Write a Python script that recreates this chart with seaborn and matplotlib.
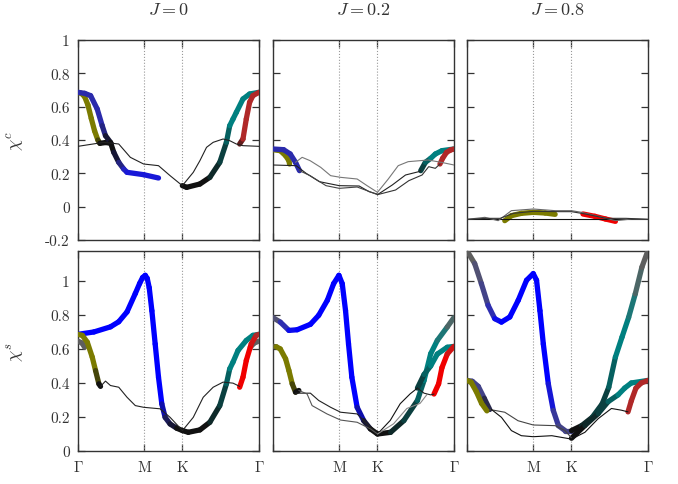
import numpy as np
import matplotlib
matplotlib.use('Agg')
import matplotlib.pyplot as plt
import matplotlib.transforms as mtransforms
from matplotlib.collections import LineCollection
from matplotlib.colors import to_rgb
import seaborn as sns

# high-symmetry path: Gamma - M - K - Gamma (hexagonal BZ)
path_pos = [0.0, 1.0, 1.577, 2.732]
path_lab = [r'$\Gamma$', r'$\mathrm{M}$', r'$\mathrm{K}$', r'$\Gamma$']
titles = [r'$J = 0$', r'$J = 0.2$', r'$J = 0.8$']

pal = {'ol': '#7b7b00', 'b1': '#2b2bab', 'b': '#1818d8', 'bb': '#0000ff',
       'nv': '#1c1c58', 'k': '#111111', 'dt': '#0b4040', 'tl': '#008080',
       'br': '#b02828', 'r': '#f00000', 'gr': '#5e5e5e', 'sl': '#434388',
       'tg': '#3a6e6e'}

# ---- chi^c, J = 0 ----
c0_olive = [(0, 0.685, 'ol'), (0.05, 0.68, 'ol'), (0.1, 0.66, 'ol'), (0.15, 0.61, 'ol'),
            (0.2, 0.53, 'ol'), (0.25, 0.455, 'ol'), (0.3, 0.4, 'ol'), (0.33, 0.38, 'k'),
            (0.42, 0.385, 'k'), (0.5, 0.38, 'k')]
c0_blue = [(0, 0.686, 'b1'), (0.1, 0.68, 'b1'), (0.19, 0.666, 'b1'), (0.29, 0.586, 'b1'),
           (0.365, 0.486, 'b1'), (0.415, 0.426, 'nv'), (0.49, 0.386, 'k'), (0.54, 0.326, 'k'),
           (0.615, 0.266, 'nv'), (0.69, 0.226, 'b1'), (0.74, 0.206, 'b'), (0.99, 0.192, 'b'),
           (1.215, 0.172, 'b')]
c0_teal = [(1.575, 0.126, 'k'), (1.64, 0.116, 'k'), (1.84, 0.136, 'k'), (1.99, 0.176, 'k'),
           (2.14, 0.266, 'dt'), (2.24, 0.386, 'dt'), (2.29, 0.486, 'tl'), (2.34, 0.526, 'tl'),
           (2.39, 0.566, 'tl'), (2.49, 0.646, 'tl'), (2.59, 0.676, 'tl'), (2.73, 0.686, 'tl')]
c0_red = [(2.44, 0.376, 'k'), (2.49, 0.406, 'br'), (2.54, 0.526, 'br'), (2.59, 0.626, 'br'),
          (2.64, 0.666, 'br'), (2.73, 0.686, 'br')]
c0_thin1_x = [0, 0.39, 0.615, 0.79, 0.99, 1.215, 1.39, 1.575]
c0_thin1_y = [0.362, 0.386, 0.376, 0.296, 0.256, 0.246, 0.186, 0.126]
c0_thin2_x = [1.575, 1.74, 1.84, 1.94, 2.04, 2.19, 2.29, 2.39, 2.49, 2.732]
c0_thin2_y = [0.126, 0.206, 0.276, 0.356, 0.386, 0.406, 0.396, 0.376, 0.366, 0.362]

# ---- chi^c, J = 0.2 ----
c1_olive = [(0, 0.342, 'ol'), (0.11, 0.336, 'ol'), (0.19, 0.306, 'ol'), (0.24, 0.276, 'ol'),
            (0.25, 0.256, 'ol')]
c1_blue = [(0, 0.346, 'b1'), (0.16, 0.342, 'b1'), (0.26, 0.316, 'b1'), (0.34, 0.266, 'b1'),
           (0.40, 0.216, 'b1')]
c1_teal = [(2.23, 0.216, 'dt'), (2.30, 0.266, 'dt'), (2.38, 0.29, 'tl'), (2.45, 0.316, 'tl'),
           (2.55, 0.336, 'tl'), (2.73, 0.346, 'tl')]
c1_red = [(2.52, 0.256, 'br'), (2.56, 0.29, 'br'), (2.62, 0.326, 'br'), (2.68, 0.34, 'br'),
          (2.73, 0.346, 'br')]
c1_thin_a_x = [0.34, 0.44, 0.56, 0.72, 0.87, 1.02, 1.27, 1.42, 1.577]
c1_thin_a_y = [0.266, 0.296, 0.276, 0.236, 0.186, 0.176, 0.166, 0.126, 0.086]
c1_thin_b_x = [0, 0.35, 0.5, 0.7, 1.0, 1.3, 1.45, 1.577]
c1_thin_b_y = [0.25, 0.246, 0.2, 0.15, 0.126, 0.124, 0.09, 0.075]
c1_thin_c_x = [0.4, 0.56, 0.8, 1.0, 1.27, 1.42, 1.577]
c1_thin_c_y = [0.216, 0.186, 0.126, 0.11, 0.118, 0.096, 0.072]
c1_thin_d_x = [1.577, 1.74, 1.89, 2.04, 2.34, 2.54, 2.732]
c1_thin_d_y = [0.086, 0.166, 0.246, 0.27, 0.28, 0.266, 0.25]
c1_thin_e_x = [1.577, 1.80, 2.0, 2.2, 2.23]
c1_thin_e_y = [0.072, 0.13, 0.19, 0.21, 0.216]
c1_thin_f_x = [1.577, 1.85, 2.05, 2.25, 2.35, 2.45, 2.52]
c1_thin_f_y = [0.072, 0.10, 0.156, 0.19, 0.24, 0.23, 0.256]

# ---- chi^c, J = 0.8 ----
c2_olive = [(0.57, -0.084, 'ol'), (0.67, -0.054, 'ol'), (0.82, -0.04, 'ol'), (1.0, -0.034, 'ol'),
            (1.18, -0.038, 'ol'), (1.33, -0.046, 'ol')]
c2_red = [(1.75, -0.044, 'r'), (1.93, -0.058, 'r'), (2.09, -0.074, 'r'), (2.24, -0.088, 'r')]
c2_flat_x = [0, 0.5, 1.0, 1.577, 2.0, 2.732]
c2_flat_y = [-0.076, -0.076, -0.076, -0.076, -0.076, -0.076]
c2_thin1_x = [0, 0.27, 0.47, 0.57, 0.67, 1.0, 1.33, 1.577, 1.73, 2.04, 2.24, 2.49, 2.732]
c2_thin1_y = [-0.076, -0.064, -0.084, -0.054, -0.024, -0.014, -0.024, -0.024, -0.034,
              -0.064, -0.084, -0.074, -0.076]
c2_thin2_x = [0, 0.3, 0.5, 0.7, 1.0, 1.4, 1.577, 1.8, 2.1, 2.4, 2.732]
c2_thin2_y = [-0.076, -0.07, -0.07, -0.04, -0.028, -0.03, -0.03, -0.045, -0.07, -0.07, -0.076]

# ---- chi^s, J = 0 ----
s0_blue = [(0, 0.686, 'bb'), (0.24, 0.70, 'bb'), (0.49, 0.73, 'bb'), (0.615, 0.76, 'bb'),
           (0.74, 0.818, 'bb'), (0.865, 0.926, 'bb'), (0.93, 0.985, 'bb'), (0.975, 1.02, 'bb'),
           (1.015, 1.033, 'bb'), (1.045, 1.015, 'bb'), (1.075, 0.96, 'bb'), (1.115, 0.825, 'bb'),
           (1.165, 0.629, 'bb'), (1.215, 0.434, 'bb'), (1.265, 0.277, 'bb'), (1.315, 0.198, 'nv'),
           (1.39, 0.159, 'nv'), (1.49, 0.134, 'k'), (1.577, 0.12, 'k')]
s0_gray_l = [(0, 0.646, 'gr'), (0.06, 0.635, 'gr'), (0.1, 0.61, 'gr')]
s0_olive = [(0, 0.686, 'ol'), (0.065, 0.68, 'ol'), (0.14, 0.64, 'ol'), (0.215, 0.552, 'ol'),
            (0.265, 0.473, 'ol'), (0.315, 0.395, 'k'), (0.34, 0.38, 'k')]
s0_teal = [(1.577, 0.12, 'k'), (1.665, 0.11, 'k'), (1.84, 0.124, 'k'), (1.99, 0.169, 'k'),
           (2.14, 0.267, 'dt'), (2.24, 0.395, 'dt'), (2.29, 0.483, 'tl'), (2.34, 0.523, 'tl'),
           (2.415, 0.591, 'tl'), (2.54, 0.65, 'tl'), (2.64, 0.68, 'tl'), (2.73, 0.686, 'tl')]
s0_gray_r = [(2.6, 0.61, 'gr'), (2.66, 0.635, 'gr'), (2.73, 0.646, 'gr')]
s0_red = [(2.44, 0.375, 'r'), (2.49, 0.434, 'r'), (2.54, 0.532, 'r'), (2.615, 0.63, 'r'),
          (2.69, 0.68, 'br'), (2.73, 0.686, 'br')]
s0_thin1_x = [0.34, 0.415, 0.49, 0.615, 0.74, 0.865, 0.99, 1.24, 1.39, 1.577]
s0_thin1_y = [0.38, 0.411, 0.385, 0.375, 0.316, 0.267, 0.257, 0.248, 0.198, 0.12]
s0_thin2_x = [1.577, 1.74, 1.89, 2.04, 2.19, 2.34, 2.44]
s0_thin2_y = [0.12, 0.198, 0.316, 0.375, 0.405, 0.399, 0.38]

# ---- chi^s, J = 0.2 ----
s1_upper = [(0, 0.784, 'gr'), (0.11, 0.758, 'sl'), (0.24, 0.709, 'b'), (0.365, 0.713, 'bb'),
            (0.565, 0.745, 'bb'), (0.69, 0.798, 'bb'), (0.82, 0.886, 'bb'), (0.915, 0.984, 'bb'),
            (0.995, 1.033, 'bb'), (1.045, 0.984, 'bb'), (1.095, 0.825, 'bb'), (1.14, 0.629, 'bb'),
            (1.19, 0.434, 'bb'), (1.27, 0.257, 'bb'), (1.37, 0.178, 'nv'), (1.47, 0.13, 'k'),
            (1.577, 0.10, 'k')]
s1_right = [(1.577, 0.10, 'k'), (1.775, 0.11, 'k'), (1.975, 0.179, 'dt'), (2.18, 0.297, 'dt'),
            (2.28, 0.415, 'tl'), (2.38, 0.572, 'tl'), (2.48, 0.65, 'tl'), (2.63, 0.729, 'tg'),
            (2.73, 0.784, 'gr')]
s1_olive = [(0, 0.615, 'sl'), (0.05, 0.613, 'ol'), (0.11, 0.60, 'ol'), (0.19, 0.542, 'ol'),
            (0.24, 0.473, 'ol'), (0.29, 0.395, 'ol'), (0.34, 0.346, 'k'), (0.39, 0.356, 'k')]
s1_teal = [(2.18, 0.37, 'dt'), (2.28, 0.45, 'dt'), (2.38, 0.50, 'tl'), (2.48, 0.57, 'tl'),
           (2.63, 0.61, 'tl'), (2.73, 0.615, 'tl')]
s1_red = [(2.43, 0.335, 'r'), (2.50, 0.395, 'r'), (2.55, 0.49, 'r'), (2.63, 0.57, 'r'),
          (2.73, 0.615, 'br')]
s1_thin1_x = [0.34, 0.565, 0.69, 0.87, 1.02, 1.27, 1.47, 1.577]
s1_thin1_y = [0.34, 0.34, 0.297, 0.257, 0.228, 0.218, 0.139, 0.10]
s1_thin2_x = [0.39, 0.515, 0.59, 0.815, 1.02, 1.27, 1.47, 1.577]
s1_thin2_y = [0.356, 0.335, 0.267, 0.218, 0.182, 0.169, 0.13, 0.10]
s1_thin3_x = [1.577, 1.77, 1.92, 2.07, 2.18]
s1_thin3_y = [0.10, 0.18, 0.278, 0.336, 0.37]
s1_thin4_x = [1.577, 1.82, 2.02, 2.22, 2.32]
s1_thin4_y = [0.10, 0.16, 0.25, 0.28, 0.33]
s1_thin5_x = [2.18, 2.28, 2.38, 2.43]
s1_thin5_y = [0.37, 0.34, 0.33, 0.335]

# ---- chi^s, J = 0.8 ----
s2_upper = [(0, 1.177, 'gr'), (0.116, 1.102, 'gr'), (0.217, 0.984, 'sl'), (0.318, 0.857, 'sl'),
            (0.419, 0.778, 'b'), (0.52, 0.758, 'bb'), (0.646, 0.788, 'bb'), (0.773, 0.886, 'bb'),
            (0.899, 1.004, 'bb'), (1.0, 1.043, 'bb'), (1.05, 1.004, 'bb'), (1.101, 0.825, 'bb'),
            (1.152, 0.629, 'bb'), (1.227, 0.395, 'bb'), (1.303, 0.238, 'b1'), (1.38, 0.149, 'sl'),
            (1.48, 0.12, 'sl'), (1.577, 0.12, 'sl')]
s2_right = [(1.577, 0.12, 'k'), (1.73, 0.149, 'k'), (1.89, 0.198, 'dt'), (2.04, 0.277, 'dt'),
            (2.14, 0.375, 'dt'), (2.24, 0.552, 'tl'), (2.34, 0.67, 'tl'), (2.44, 0.786, 'tl'),
            (2.54, 0.924, 'tg'), (2.64, 1.081, 'gr'), (2.73, 1.177, 'gr')]
s2_navy = [(0, 0.415, 'sl'), (0.08, 0.41, 'sl'), (0.17, 0.38, 'sl'), (0.26, 0.31, 'sl'),
           (0.343, 0.244, 'k')]
s2_olive = [(0, 0.415, 'ol'), (0.06, 0.405, 'ol'), (0.14, 0.35, 'ol'), (0.22, 0.28, 'ol'),
            (0.3, 0.236, 'ol')]
s2_teal = [(1.577, 0.075, 'k'), (1.78, 0.15, 'k'), (1.98, 0.22, 'dt'), (2.13, 0.29, 'dt'),
           (2.28, 0.33, 'tl'), (2.38, 0.37, 'tl'), (2.48, 0.40, 'tl'), (2.73, 0.415, 'tl')]
s2_red = [(2.43, 0.23, 'br'), (2.48, 0.295, 'br'), (2.55, 0.37, 'br'), (2.63, 0.40, 'br'),
          (2.73, 0.415, 'br')]
s2_thin1_x = [0.343, 0.57, 0.77, 1.0, 1.33, 1.48, 1.577]
s2_thin1_y = [0.244, 0.228, 0.178, 0.153, 0.149, 0.12, 0.077]
s2_thin2_x = [0.37, 0.52, 0.67, 0.82, 1.0, 1.28, 1.577]
s2_thin2_y = [0.244, 0.198, 0.12, 0.09, 0.084, 0.09, 0.07]
s2_thin3_x = [1.577, 1.78, 1.98, 2.18, 2.33, 2.43]
s2_thin3_y = [0.07, 0.11, 0.19, 0.25, 0.24, 0.23]

thick_bands = [
    [c0_olive, c0_blue, c0_teal, c0_red],
    [c1_olive, c1_blue, c1_teal, c1_red],
    [c2_olive, c2_red],
    [s0_blue, s0_gray_l, s0_olive, s0_teal, s0_gray_r, s0_red],
    [s1_upper, s1_right, s1_olive, s1_teal, s1_red],
    [s2_upper, s2_right, s2_navy, s2_olive, s2_teal, s2_red],
]
thin_bands = [
    [(c0_thin1_x, c0_thin1_y, '#222222'), (c0_thin2_x, c0_thin2_y, '#222222')],
    [(c1_thin_a_x, c1_thin_a_y, '#777777'), (c1_thin_b_x, c1_thin_b_y, '#222222'),
     (c1_thin_c_x, c1_thin_c_y, '#444444'), (c1_thin_d_x, c1_thin_d_y, '#777777'),
     (c1_thin_e_x, c1_thin_e_y, '#222222'), (c1_thin_f_x, c1_thin_f_y, '#333333')],
    [(c2_flat_x, c2_flat_y, '#111111'), (c2_thin1_x, c2_thin1_y, '#666666'),
     (c2_thin2_x, c2_thin2_y, '#333333')],
    [(s0_thin1_x, s0_thin1_y, '#222222'), (s0_thin2_x, s0_thin2_y, '#222222')],
    [(s1_thin1_x, s1_thin1_y, '#222222'), (s1_thin2_x, s1_thin2_y, '#555555'),
     (s1_thin3_x, s1_thin3_y, '#111111'), (s1_thin4_x, s1_thin4_y, '#888888'),
     (s1_thin5_x, s1_thin5_y, '#222222')],
    [(s2_thin1_x, s2_thin1_y, '#444444'), (s2_thin2_x, s2_thin2_y, '#111111'),
     (s2_thin3_x, s2_thin3_y, '#111111')],
]

top_ticks = [1, 0.8, 0.6, 0.4, 0.2, 0, -0.2]
top_tick_lab = ['1', '0.8', '0.6', '0.4', '0.2', '0', '-0.2']
bot_ticks = [1, 0.8, 0.6, 0.4, 0.2, 0]
bot_tick_lab = ['1', '0.8', '0.6', '0.4', '0.2', '0']


def draw_band(ax, pts, lw=3.8):
    # colour changes along the band (orbital weight) -> one colour per segment
    xy = np.array([[p[0], p[1]] for p in pts])
    cols = [to_rgb(pal[p[2]]) for p in pts]
    segs = [xy[i:i + 2] for i in range(len(xy) - 1)]
    seg_cols = [tuple((np.array(cols[i]) + np.array(cols[i + 1])) / 2) for i in range(len(segs))]
    lc = LineCollection(segs, colors=seg_cols, linewidths=lw, capstyle='round',
                        joinstyle='round', zorder=3)
    ax.add_collection(lc)


sns.set_theme(style='ticks')
plt.rcParams['mathtext.fontset'] = 'cm'
plt.rcParams['font.family'] = ['cmr10', 'DejaVu Serif']
plt.rcParams['axes.unicode_minus'] = False

fig = plt.figure(figsize=(6.78, 4.85), dpi=100)
lefts = [78 / 678, 273 / 678, 467 / 678]
bottoms = [1 - 241 / 485, 1 - 452 / 485]
w, h = 181 / 678, 200 / 485

for k in range(6):
    row, col = divmod(k, 3)
    ax = fig.add_axes([lefts[col], bottoms[row], w, h])
    for xv in path_pos[1:3]:
        ax.axvline(xv, color='#999999', ls=':', lw=0.8, zorder=1)
    for pts in thick_bands[k]:
        draw_band(ax, pts)
    for xs, ys, c in thin_bands[k]:
        sns.lineplot(x=xs, y=ys, ax=ax, color=c, lw=0.8, sort=False, estimator=None, zorder=4)
    ax.set_xlim(0, 2.732)
    ax.set_xticks(path_pos)
    if row == 0:
        ax.set_ylim(-0.2, 1.0)
        ax.set_yticks(top_ticks)
        ax.set_title(titles[col], fontsize=13, pad=19, color='#333333')
        ax.set_xticklabels([])
        ylab, ytl = r'$\chi^c$', top_tick_lab
    else:
        ax.set_ylim(0, 1.176)
        ax.set_yticks(bot_ticks)
        # shared Gamma label sits in the gap between neighbouring panels
        labs = list(path_lab)
        if col > 0:
            labs[0] = ''
        ax.set_xticklabels(labs, fontsize=13)
        if col < 2:
            shift = mtransforms.ScaledTranslation(7 / 100, 0, fig.dpi_scale_trans)
            last = ax.get_xticklabels()[-1]
            last.set_transform(last.get_transform() + shift)
        ylab, ytl = r'$\chi^s$', bot_tick_lab
    if col == 0:
        ax.set_yticklabels(ytl)
        ax.set_ylabel(ylab, fontsize=13, color='#333333')
        ax.yaxis.set_label_coords(-0.28, 0.5)
    else:
        ax.set_yticklabels([])
    ax.tick_params(direction='in', length=5, width=0.9, top=True, right=True,
                   labelsize=11, colors='#333333', pad=6)
    for sp in ax.spines.values():
        sp.set_color('#333333')
        sp.set_linewidth(1.0)
        sp.set_visible(True)

fig.savefig('out.png', dpi=100)
